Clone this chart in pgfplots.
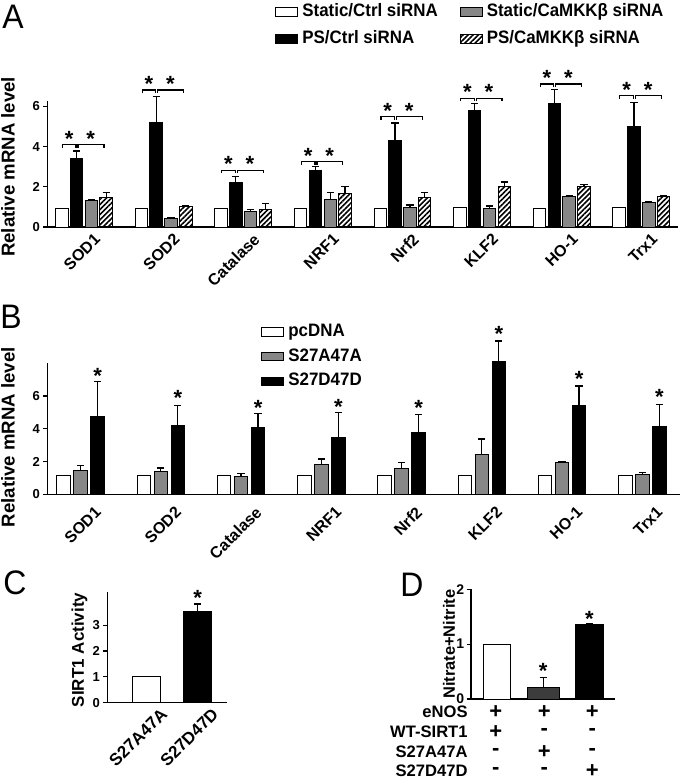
\documentclass[border=0pt]{standalone}
\usepackage{fontspec}
\setmainfont{Liberation Sans}
\newfontfamily\legfont[FakeStretch=0.94]{Liberation Sans}
\usepackage{pgfplots}
\usepackage{pgfplotstable}
\pgfplotsset{compat=1.18}
\usetikzlibrary{patterns.meta}
\definecolor{midgray}{RGB}{135,135,135}
\definecolor{dgray}{RGB}{60,60,60}

\pgfplotsset{
  boxlegend/.style={legend image code/.code={\draw[##1,line width=0.5pt] (0pt,-2.1pt) rectangle (11pt,2.1pt);}},
  panel/.style={
    scale only axis, anchor=south west, clip=false, enlargelimits=false,
    axis x line*=bottom, axis y line*=left,
    axis line style={line width=0.75pt,-},
    tick align=outside, major tick length=2.2pt,
    xtick style={draw=none},
    ytick style={line width=0.6pt, black},
    /pgf/number format/assume math mode=true,
    yticklabel style={font=\bfseries\fontsize{6.5}{7}\selectfont, inner sep=1.5pt},
  },
  errs/.style={error bars/.cd, y dir=plus, y explicit,
    error bar style={line width=0.6pt,black},
    error mark options={rotate=90, line width=0.6pt, mark size=1.8pt, black}},
}
\tikzset{star/.style={font=\bfseries\fontsize{11}{11}\selectfont, inner sep=0pt, anchor=center, yshift=-2.3pt},
  sig/.style={line width=0.6pt, black}}

% Panel A: value columns and upper error lengths
\pgfplotstableread{
x w k g h ke ge he
0 0.94 3.42 1.32 1.49 0.36 0.04 0.24
1 0.94 5.19 0.41 1.02 1.32 0.04 0.03
2 0.94 2.21 0.78 0.89 0.29 0.08 0.28
3 0.94 2.79 1.35 1.68 0.21 0.38 0.33
4 0.94 4.32 0.99 1.45 0.86 0.11 0.28
5 0.98 5.80 0.94 2.01 0.33 0.11 0.23
6 0.94 6.13 1.50 2.01 0.73 0.05 0.12
7 0.95 5.02 1.21 1.51 1.18 0.03 0.04
}\dataA
% Panel B
\pgfplotstableread{
x w g k ge ke
0 1.15 1.45 4.75 0.33 2.15
1 1.15 1.39 4.19 0.21 1.23
2 1.15 1.10 4.05 0.15 0.90
3 1.15 1.80 3.44 0.35 1.53
4 1.15 1.60 3.78 0.34 1.09
5 1.15 2.41 8.08 0.96 1.27
6 1.15 1.94 5.42 0.06 1.18
7 1.15 1.19 4.13 0.14 1.37
}\dataB

% significance bracket pair for panel A: #1 category, #2 bracket height
\newcommand\brk[2]{%
  \pgfmathsetmacro\xa{#1-0.27}\pgfmathsetmacro\xb{#1-0.10}%
  \pgfmathsetmacro\xc{#1-0.075}\pgfmathsetmacro\xd{#1+0.25}%
  \pgfmathsetmacro\ylo{#2-0.16}\pgfmathsetmacro\ys{#2+0.52}%
  \pgfmathsetmacro\sa{#1-0.185}\pgfmathsetmacro\sb{#1+0.085}%
  \edef\tmp{\noexpand\draw[sig] (axis cs:\xa,\ylo) -- (axis cs:\xa,#2) -- (axis cs:\xb,#2) -- (axis cs:\xb,\ylo);
    \noexpand\draw[sig] (axis cs:\xc,\ylo) -- (axis cs:\xc,#2) -- (axis cs:\xd,#2) -- (axis cs:\xd,\ylo);
    \noexpand\node[star] at (axis cs:\sa,\ys) {*};
    \noexpand\node[star] at (axis cs:\sb,\ys) {*};}%
  \tmp}

\begin{document}
\begin{tikzpicture}
\useasboundingbox (0,0) rectangle (340pt,-391.5pt);
\node[anchor=north west, inner sep=0pt, font=\legfont\fontsize{17}{17}\selectfont] at (1pt,-2.5pt) {A};
\node[anchor=north west, inner sep=0pt, font=\legfont\fontsize{17}{17}\selectfont] at (0pt,-152.5pt) {B};
\node[anchor=north west, inner sep=0pt, font=\legfont\fontsize{17}{17}\selectfont] at (1.5pt,-285pt) {C};
\node[anchor=north west, inner sep=0pt, font=\legfont\fontsize{17}{17}\selectfont] at (200pt,-286.5pt) {D};

% ---------------- A ----------------
\begin{axis}[panel, at={(23.85pt,-113.5pt)}, width=315.15pt, height=62.8pt,
  xmin=-0.456, xmax=7.46, ymin=0, ymax=6.25,
  xtick={0,...,7}, xticklabels={SOD1,SOD2,Catalase,NRF1,Nrf2,KLF2,HO-1,Trx1},
  xticklabel style={font=\bfseries\fontsize{8}{9}\selectfont, rotate=45, anchor=north east, inner sep=0pt, xshift=3pt, yshift=-3.5pt},
  ytick={0,2,4,6},
  ylabel={Relative mRNA level},
  ylabel style={font=\bfseries\fontsize{9.3}{10}\selectfont, at={(axis description cs:-0.063,0.479)}, anchor=center},
  legend columns=2, transpose legend,
  legend style={draw=none, fill=none, at={(axis description cs:0.3606,1.812)}, anchor=north west,
    inner sep=0pt, row sep=1.5pt, font=\legfont\bfseries\fontsize{9}{10}\selectfont,
    /tikz/every even column/.append style={column sep=9pt}},
  legend cell align=left,
]
\addplot[ybar, boxlegend, bar width=0.157, bar shift=0, fill=white, draw=black, line width=0.5pt] table[x expr=\thisrow{x}-0.279,y=w]{\dataA};
\addlegendentry{Static/Ctrl siRNA}
\addplot[ybar, boxlegend, bar width=0.157, bar shift=0, fill=black, draw=black, line width=0.5pt, errs] table[x expr=\thisrow{x}-0.093,y=k,y error plus=ke]{\dataA};
\addlegendentry{PS/Ctrl siRNA}
\addplot[ybar, boxlegend, bar width=0.157, bar shift=0, fill=midgray, draw=black, line width=0.5pt, errs] table[x expr=\thisrow{x}+0.093,y=g,y error plus=ge]{\dataA};
\addlegendentry{Static/CaMKKβ siRNA}
\addplot[ybar, boxlegend, bar width=0.157, bar shift=0, fill=white, pattern={Lines[angle=45,distance=1.8pt,line width=0.8pt]}, pattern color=black, draw=black, line width=0.5pt, errs] table[x expr=\thisrow{x}+0.279,y=h,y error plus=he]{\dataA};
\addlegendentry{PS/CaMKKβ siRNA}
\brk{0}{4.11}
\brk{1}{6.82}
\brk{2}{2.83}
\brk{3}{3.25}
\brk{4}{5.50}
\brk{5}{6.41}
\brk{6}{7.12}
\brk{7}{6.55}
\end{axis}

% ---------------- B ----------------
\begin{axis}[panel, at={(23.85pt,-247.15pt)}, width=316.15pt, height=65.6pt,
  xmin=-0.41, xmax=7.47, ymin=0, ymax=8,
  xtick={0,...,7}, xticklabels={SOD1,SOD2,Catalase,NRF1,Nrf2,KLF2,HO-1,Trx1},
  xticklabel style={font=\bfseries\fontsize{8}{9}\selectfont, rotate=45, anchor=north east, inner sep=0pt, xshift=2.5pt, yshift=-7pt},
  ytick={0,2,4,6},
  ylabel={Relative mRNA level},
  ylabel style={font=\bfseries\fontsize{9.3}{10}\selectfont, at={(axis description cs:-0.063,0.435)}, anchor=center},
  legend style={draw=none, fill=none, at={(axis description cs:0.3373,1.328)}, anchor=north west,
    inner sep=0pt, row sep=0.5pt, font=\legfont\bfseries\fontsize{9}{10}\selectfont},
  legend cell align=left,
]
\addplot[ybar, boxlegend, bar width=0.168, bar shift=0, fill=white, draw=black, line width=0.5pt] table[x expr=\thisrow{x}-0.212,y=w]{\dataB};
\addlegendentry{pcDNA}
\addplot[ybar, boxlegend, bar width=0.168, bar shift=0, fill=midgray, draw=black, line width=0.5pt, errs] table[x=x,y=g,y error plus=ge]{\dataB};
\addlegendentry{S27A47A}
\addplot[ybar, boxlegend, bar width=0.168, bar shift=0, fill=black, draw=black, line width=0.5pt, errs] table[x expr=\thisrow{x}+0.212,y=k,y error plus=ke]{\dataB};
\addlegendentry{S27D47D}
\node[star] at (axis cs:0.212,7.50) {*};
\node[star] at (axis cs:1.212,6.13) {*};
\node[star] at (axis cs:2.212,5.52) {*};
\node[star] at (axis cs:3.212,5.58) {*};
\node[star] at (axis cs:4.212,5.52) {*};
\node[star] at (axis cs:5.212,10.08) {*};
\node[star] at (axis cs:6.212,7.30) {*};
\node[star] at (axis cs:7.212,6.24) {*};
\end{axis}

% ---------------- C ----------------
\begin{axis}[panel, at={(53.85pt,-351.35pt)}, width=59.5pt, height=55.5pt,
  xmin=-0.76, xmax=1.57, ymin=0, ymax=4.3,
  xtick={0,1}, xticklabels={S27A47A,S27D47D},
  xticklabel style={font=\bfseries\fontsize{8.5}{9}\selectfont, rotate=45, anchor=north east, inner sep=0pt, xshift=5pt, yshift=-4.5pt},
  ytick={0,1,2,3},
  ylabel={SIRT1 Activity},
  ylabel style={font=\bfseries\fontsize{8.5}{9}\selectfont, at={(axis description cs:-0.237,0.475)}, anchor=center},
]
\addplot[ybar, bar width=0.55, bar shift=0, fill=white, draw=black, line width=0.5pt] coordinates {(0,1.0)};
\addplot[ybar, bar width=0.55, bar shift=0, fill=black, draw=black, line width=0.5pt, errs] coordinates {(1,3.55) +- (0,0.27)};
\node[star] at (axis cs:1,4.23) {*};
\end{axis}

% ---------------- D ----------------
\begin{axis}[panel, at={(235.5pt,-349.5pt)}, width=72pt, height=54.85pt,
  xmin=-0.562, xmax=2.551, ymin=0, ymax=2,
  xtick=\empty,
  ytick={0,1,2},
  yticklabel style={font=\bfseries\fontsize{7}{7}\selectfont, inner sep=1pt},
  ylabel={Nitrate+Nitrite},
  ylabel style={font=\bfseries\fontsize{8.2}{9}\selectfont, at={(axis description cs:-0.153,0.50)}, anchor=center},
]
\addplot[ybar, bar width=0.6, bar shift=0, fill=white, draw=black, line width=0.5pt] coordinates {(0,1.0)};
\addplot[ybar, bar width=0.69, bar shift=0, fill=dgray, draw=black, line width=0.5pt, errs] coordinates {(1,0.21) +- (0,0.18)};
\addplot[ybar, bar width=0.59, bar shift=0, fill=black, draw=black, line width=0.5pt, errs] coordinates {(2,1.35) +- (0,0.02)};
\node[star] at (axis cs:1,0.59) {*};
\node[star] at (axis cs:2,1.55) {*};
\end{axis}

% D table
\begin{scope}[every node/.style={inner sep=0pt, font=\bfseries\fontsize{8.3}{9}\selectfont}]
\node[anchor=east] at (234pt,-355.9pt) {eNOS};
\node[anchor=east] at (234pt,-365.9pt) {WT-SIRT1};
\node[anchor=east] at (234pt,-376.1pt) {S27A47A};
\node[anchor=east] at (234pt,-385.4pt) {S27D47D};
\end{scope}
\begin{scope}[every node/.style={inner sep=0pt, font=\bfseries\fontsize{11}{11}\selectfont}]
\node at (247.9pt,-355.9pt) {+}; \node at (272.2pt,-355.9pt) {+}; \node at (296.2pt,-355.9pt) {+};
\node at (247.9pt,-365.9pt) {+}; \node at (272.2pt,-365.9pt) {-}; \node at (296.2pt,-365.9pt) {-};
\node at (247.9pt,-376.1pt) {-}; \node at (272.2pt,-376.1pt) {+}; \node at (296.2pt,-376.1pt) {-};
\node at (247.9pt,-385.4pt) {-}; \node at (272.2pt,-385.4pt) {-}; \node at (296.2pt,-385.4pt) {+};
\end{scope}
\end{tikzpicture}
\end{document}
